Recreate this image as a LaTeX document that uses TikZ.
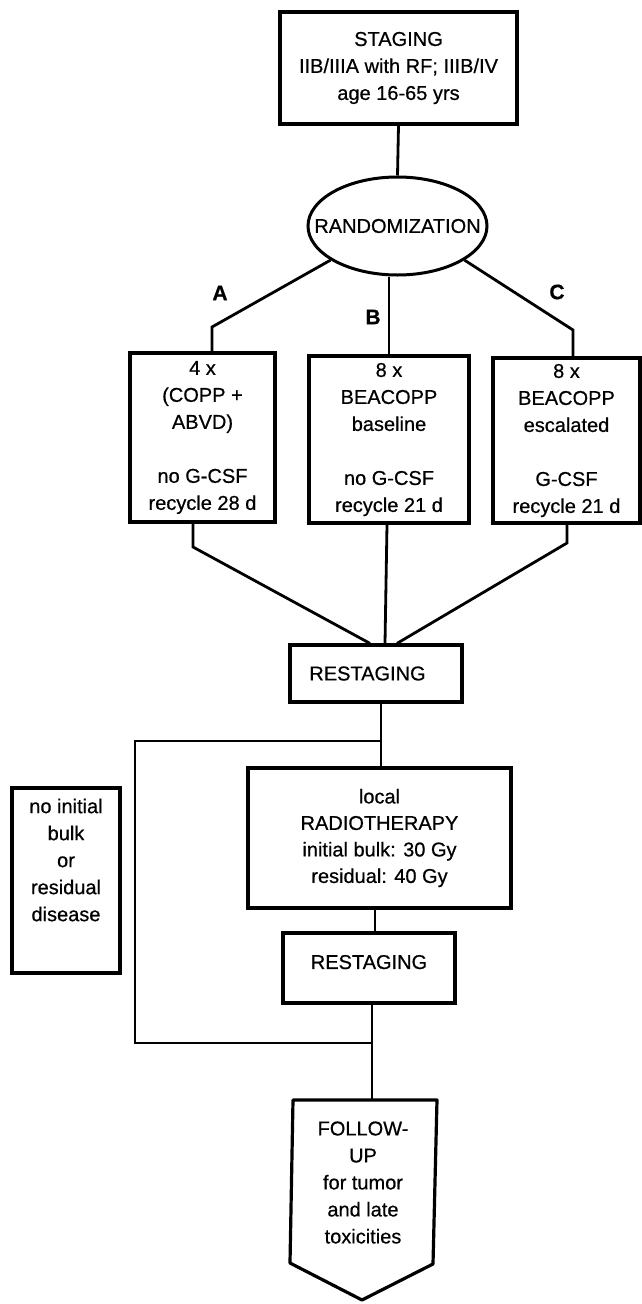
\documentclass[tikz,border=0pt]{standalone}
\usepackage{fontspec}
\setmainfont{Liberation Sans}[FakeBold=0.6]
\usetikzlibrary{shapes.geometric}
\newcommand\diagfont{\fontsize{20}{27}\selectfont}
\newcommand\diagfontb{\fontsize{21}{27}\selectfont\bfseries}
\begin{document}
\begin{tikzpicture}[x=1pt,y=-1pt,
  box/.style={draw,line width=3.2pt,inner sep=0pt,align=center,font=\diagfont},
  conn/.style={line width=2.8pt},
  lbl/.style={font=\diagfontb,inner sep=0pt},
  txt/.style={font=\diagfont,align=center,inner sep=0pt}]
\useasboundingbox (0,0) rectangle (642,1304);

% top
\node[box,minimum width=237pt,minimum height=112pt] (stag) at (398.5,68)
  {STAGING\\IIB/IIIA with RF; IIIB/IV\\age 16-65 yrs};
\node[draw,ellipse,line width=3pt,inner sep=0pt,minimum width=179pt,minimum height=98pt,font=\diagfont] (rand) at (397.5,226)
  {\makebox[0pt]{RANDOMIZATION}};

% arms
\node[lbl] (la) at (220,293) {A};
\node[lbl] (lb) at (373,317) {B};
\node[lbl] (lc) at (557,292) {C};

\node[box,minimum width=145pt,minimum height=169pt] (a) at (202.5,437.5)
  {4 x\\(COPP +\\ABVD)\\[27pt]no G-CSF\\recycle 28 d};
\node[box,minimum width=160pt,minimum height=167pt] (b) at (389,439.5)
  {8 x\\BEACOPP\\baseline\\[27pt]no G-CSF\\recycle 21 d};
\node[box,minimum width=147pt,minimum height=165pt] (c) at (566.5,440.5)
  {8 x\\BEACOPP\\escalated\\[27pt]G-CSF\\recycle 21 d};

% restaging / radiotherapy
\node[box,minimum width=172pt,minimum height=57pt] (r1) at (376,673.5) {RESTAGING\hspace*{17pt}};
\node[box,minimum width=263pt,minimum height=140pt,font=\fontsize{20}{26.5}\selectfont] (rt) at (379.5,838)
  {local\\RADIOTHERAPY\\initial bulk: 30 Gy\\residual: 40 Gy};
\node[box,minimum width=172pt,minimum height=70pt] (r2) at (369,968) {\raisebox{12pt}{RESTAGING}};

\node[box,minimum width=108pt,minimum height=185pt] (nb) at (66,880.5) {};
\node[txt] (nbtext) at (66,860) {no initial\\bulk\\or\\residual\\disease};

% follow-up
\draw[line width=3.2pt,line join=round] (293,1100) -- (437,1100) -- (433,1264) -- (362,1300) -- (290,1263) -- cycle;
\node[txt] (futext) at (363,1182.5) {FOLLOW-\\UP\\for tumor\\and late\\toxicities};

% connectors
\draw[conn] (stag.south) -- (rand.north);
\coordinate (ka) at (212,327);
\draw[conn] (rand.207) -- (ka) -- (ka |- a.north);
\draw[conn] (b.north) -- (b.north |- rand.south);
\coordinate (kc) at (573,330);
\draw[conn] (rand.333) -- (kc) -- (kc |- c.north);

\coordinate (ka2) at (193,547);
\draw[conn] (ka2 |- a.south) -- (ka2) -- ([xshift=-6pt]r1.north);
\draw[conn] ([xshift=-2pt]b.south) -- ([xshift=9pt]r1.north);
\coordinate (kc2) at (567,543);
\draw[conn] (kc2 |- c.south) -- (kc2) -- ([xshift=21pt]r1.north);

\coordinate (j1) at (381,741);
\draw[conn] (j1 |- r1.south) -- (j1 |- rt.north);
\coordinate (lp) at (135,900);
\coordinate (j2) at (372,1043);
\draw[conn] (j1) -| (lp) |- (j2);
\coordinate (j3) at (375,920);
\draw[conn] (j3 |- rt.south) -- (j3 |- r2.north);
\coordinate (futop) at (372,1100);
\draw[conn] (futop |- r2.south) -- (futop);
\end{tikzpicture}
\end{document}
